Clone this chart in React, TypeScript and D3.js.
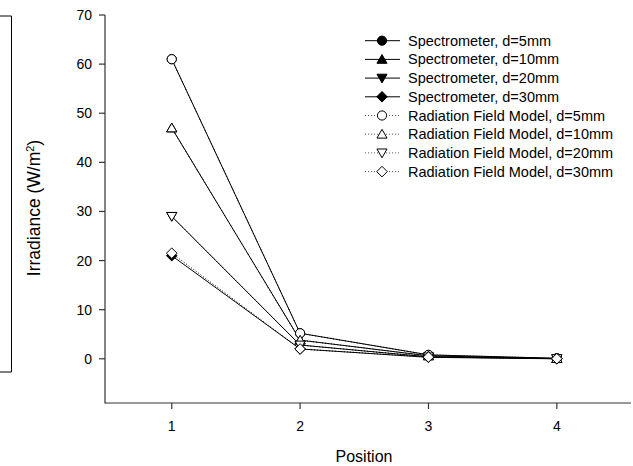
import React from "react";
import * as d3 from "d3";

const positions = [1, 2, 3, 4];
const yTicks = [0, 10, 20, 30, 40, 50, 60, 70];

const specD5 = [61, 5.2, 0.8, 0.1];
const specD10 = [47, 3.8, 0.6, 0.05];
const specD20 = [29, 2.8, 0.4, 0.03];
const specD30 = [21, 2.0, 0.3, 0.0];
const modelD5 = [61, 5.2, 0.8, 0.1];
const modelD10 = [47, 3.8, 0.6, 0.05];
const modelD20 = [29, 2.8, 0.4, 0.03];
const modelD30 = [21.5, 2.0, 0.35, 0.02];

const seriesNames = [
  "Spectrometer, d=5mm",
  "Spectrometer, d=10mm",
  "Spectrometer, d=20mm",
  "Spectrometer, d=30mm",
  "Radiation Field Model, d=5mm",
  "Radiation Field Model, d=10mm",
  "Radiation Field Model, d=20mm",
  "Radiation Field Model, d=30mm",
];
const seriesValues = [specD5, specD10, specD20, specD30, modelD5, modelD10, modelD20, modelD30];
const seriesShapes = ["circle", "up", "down", "diamond", "circle", "up", "down", "diamond"];
const seriesFilled = [true, true, true, true, false, false, false, false];

const W = 633;
const H = 466;
const FONT = "'Liberation Sans', Arial, sans-serif";

function markerPath(shape: string, s: number): string {
  if (shape === "circle") {
    return `M${-s},0A${s},${s} 0 1,0 ${s},0A${s},${s} 0 1,0 ${-s},0Z`;
  }
  if (shape === "up") {
    return `M0,${-s * 1.05}L${s * 1.1},${s * 0.85}L${-s * 1.1},${s * 0.85}Z`;
  }
  if (shape === "down") {
    return `M0,${s * 1.05}L${s * 1.1},${-s * 0.85}L${-s * 1.1},${-s * 0.85}Z`;
  }
  return `M0,${-s * 1.15}L${s * 1.15},0L0,${s * 1.15}L${-s * 1.15},0Z`;
}

export default function App() {
  const x = d3.scaleLinear().domain([0.48, 4.57]).range([105, 630]);
  const y = d3.scaleLinear().domain([-9, 70]).range([403, 15]);
  const line = d3
    .line<number>()
    .x((_, i) => x(positions[i]))
    .y((v) => y(v));

  const legendX0 = 365;
  const legendX1 = 400;
  const legendMid = 382;
  const legendTop = 40.7;
  const legendStep = 18.7;

  return (
    <div style={{ position: "absolute", left: 0, top: 0 }}>
      <svg width={W} height={H} style={{ display: "block", background: "#fff" }} fontFamily={FONT}>
        {/* left cropped frame */}
        <path d="M0,16H11.5V372H0" fill="none" stroke="#000" strokeWidth={1} />

        {/* axes */}
        <line x1={105} x2={105} y1={15} y2={403.5} stroke="#333" strokeWidth={1.2} />
        <line x1={105} x2={631} y1={403} y2={403} stroke="#333" strokeWidth={1.2} />
        {yTicks.map((t) => (
          <g key={"y" + t}>
            <line x1={99} x2={105} y1={y(t)} y2={y(t)} stroke="#333" strokeWidth={1.2} />
            <text x={92} y={y(t) + 5} textAnchor="end" fontSize={14} fill="#000">
              {t}
            </text>
          </g>
        ))}
        {positions.map((p) => (
          <g key={"x" + p}>
            <line x1={x(p)} x2={x(p)} y1={403} y2={409} stroke="#333" strokeWidth={1.2} />
            <text x={x(p)} y={431} textAnchor="middle" fontSize={14} fill="#000">
              {p}
            </text>
          </g>
        ))}
        <text x={364} y={462} textAnchor="middle" fontSize={16} fill="#000">
          Position
        </text>
        <text
          transform={`translate(40,208) rotate(-90)`}
          textAnchor="middle"
          fontSize={17.5}
          fill="#000"
        >
          Irradiance (W/m<tspan dy={-6.5} fontSize={11}>2</tspan>
          <tspan dy={6.5}>)</tspan>
        </text>

        {/* series lines */}
        {seriesValues.map((vals, i) => (
          <path
            key={"l" + i}
            d={line(vals) || ""}
            fill="none"
            stroke="#000"
            strokeWidth={1}
            strokeDasharray={seriesFilled[i] ? undefined : "1,2"}
          />
        ))}
        {/* markers */}
        {seriesValues.map((vals, i) => (
          <g key={"m" + i}>
            {vals.map((v, j) => (
              <path
                key={j}
                transform={`translate(${x(positions[j])},${y(v)})`}
                d={markerPath(seriesShapes[i], 4.6)}
                fill={seriesFilled[i] ? "#000" : "#fff"}
                stroke="#000"
                strokeWidth={1}
              />
            ))}
          </g>
        ))}

        {/* legend */}
        {seriesNames.map((name, i) => {
          const cy = legendTop + i * legendStep;
          return (
            <g key={"lg" + i}>
              <line
                x1={legendX0}
                x2={legendX1}
                y1={cy}
                y2={cy}
                stroke={seriesFilled[i] ? "#000" : "#555"}
                strokeWidth={1}
                strokeDasharray={seriesFilled[i] ? undefined : "1,2"}
              />
              <path
                transform={`translate(${legendMid},${cy})`}
                d={markerPath(seriesShapes[i], 4.6)}
                fill={seriesFilled[i] ? "#000" : "#fff"}
                stroke="#000"
                strokeWidth={1}
              />
              <text x={408} y={cy + 5} fontSize={14.5} fill="#000">
                {name}
              </text>
            </g>
          );
        })}
      </svg>
    </div>
  );
}
